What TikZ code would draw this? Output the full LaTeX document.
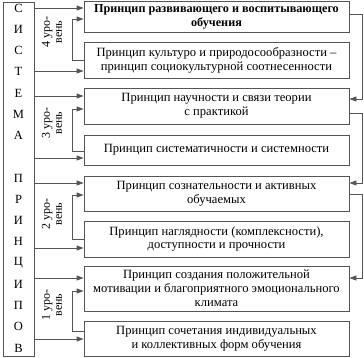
\documentclass[tikz,border=0pt]{standalone}
\usepackage{fontspec}
\setmainfont{Liberation Serif}
\usetikzlibrary{arrows.meta, positioning}
\definecolor{lineGray}{HTML}{555555}

\begin{document}
\begin{tikzpicture}[
        x=1pt, y=-1pt,
        box/.style={rectangle, draw=lineGray, line width=0.8pt, minimum width=265pt, inner sep=1pt,
                    align=center, font=\fontsize{12.6}{13.8}\selectfont},
        boxbold/.style={box, font=\fontsize{12.2}{13.8}\selectfont\bfseries},
        letter/.style={font=\fontsize{12.5}{14}\selectfont, inner sep=0pt},
        level/.style={rotate=90, align=center, inner sep=0pt, font=\fontsize{12}{12}\selectfont},
        arrow/.style={-{Triangle[length=7pt, width=5pt]}, lineGray, line width=0.8pt}
      ]
        \useasboundingbox (0,0) rectangle (364,358);
        \node[draw=lineGray, line width=0.8pt, minimum width=31pt, minimum height=354pt] (sys) at (18.5,179) {};
        \foreach \ch [count=\i] in {С,И,С,Т,Е,М,А,{},П,Р,И,Н,Ц,И,П,О,В}
          \node[letter] (ch\i) at (18.5, 8+21.25*\i-21.25) {\ch};

        \node[boxbold, minimum height=31pt] (p1) at (216.5,16.5) {Принцип развивающего и воспитывающего\\обучения};
        \node[box, minimum height=36pt] (p2) at (216.5,60) {Принцип культуро и природосообразности –\\принцип социокультурной соотнесенности};
        \node[box, minimum height=36pt] (p3) at (216.5,106) {Принцип научности и связи теории\\с практикой};
        \node[box, minimum height=30pt] (p4) at (216.5,150) {Принцип систематичности и системности};
        \node[box, minimum height=35pt] (p5) at (216.5,193.5) {Принцип сознательности и активных\\обучаемых};
        \node[box, minimum height=36pt] (p6) at (216.5,239) {Принцип наглядности (комплексности),\\доступности и прочности};
        \node[box, minimum height=45pt] (p7) at (216.5,288.5) {Принцип создания положительной\\мотивации и благоприятного эмоционального\\климата};
        \node[box, minimum height=35pt] (p8) at (216.5,338.5) {Принцип сочетания индивидуальных\\и коллективных форм обучения};

        \node[level] (lv4) at (52,32) {4 уро-\\вень};
        \node[level] (lv3) at (52,123) {3 уро-\\вень};
        \node[level] (lv2) at (52,214) {2 уро-\\вень};
        \node[level] (lv1) at (52,305) {1 уро-\\вень};

        \foreach \y/\b in {8/p1, 71/p2, 96/p3, 158/p4, 183/p5, 248/p6, 278/p7, 339/p8}
          \draw[arrow] (sys.east |- 0,\y) -- (\b.west |- 0,\y);
        \foreach \a/\b/\ya/\yb in {p1/p2/19/60, p3/p4/109/151, p5/p6/195/239, p7/p8/291/331}
          \draw[arrow] (\b.west |- 0,\yb) -- ++(-11,0) |- (\a.west |- 0,\ya);

        \draw[arrow] (p1.east |- 0,14) -- ++(13,0) |- (p3.east |- 0,99);
        \draw[arrow] (p3.east |- 0,113) -- ++(13,0) |- (p5.east |- 0,183);
        \draw[arrow] (p5.east |- 0,194) -- ++(13,0) |- (p7.east |- 0,278);
      \end{tikzpicture}
\end{document}
